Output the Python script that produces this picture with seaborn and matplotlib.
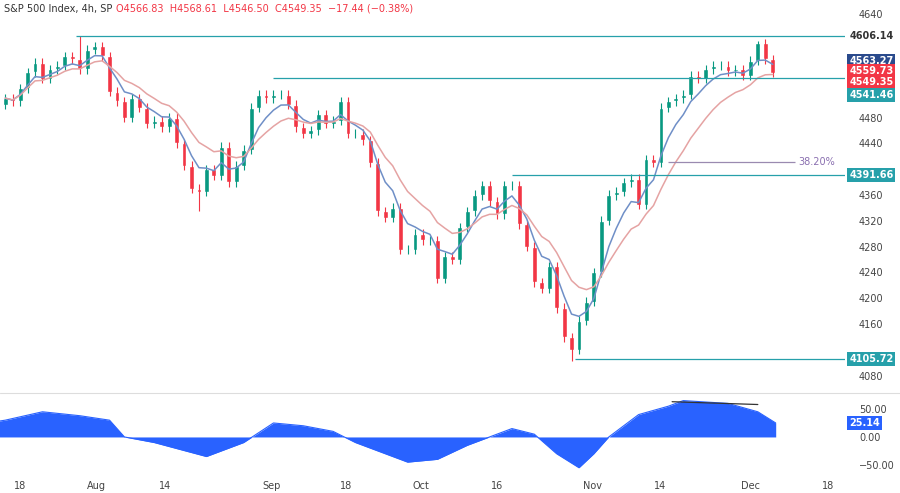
import numpy as np
import pandas as pd
import seaborn as sns
import matplotlib.pyplot as plt

# daily closes, Jul 13 .. Dec 5 2023 (business days)
closes = [4510, 4505,
          4525, 4550, 4565, 4540, 4555,
          4560, 4575, 4570, 4555, 4585,
          4590,
          4575, 4520, 4505, 4480,
          4510, 4495, 4470, 4475, 4465,
          4480, 4440, 4405, 4370, 4365,
          4400, 4390, 4435, 4380, 4405,
          4430, 4495, 4515, 4510,
          4515,
          4515, 4500, 4465, 4455, 4460,
          4485, 4470, 4475, 4505, 4455,
          4455, 4445, 4410, 4335, 4325,
          4340, 4275, 4275, 4300, 4290,
          4290, 4230, 4265, 4260, 4310,
          4335, 4360, 4375, 4350, 4330,
          4375, 4375, 4315, 4280, 4225,
          4215, 4250, 4185, 4140, 4120,
          4165, 4195,
          4240, 4320, 4360,
          4365, 4380, 4385, 4345, 4415,
          4410, 4495, 4505, 4510, 4515,
          4545, 4540, 4555, 4560, 4560,
          4552, 4555, 4545, 4568,
          4595,
          4570, 4549.35]
first_open = 4500
extreme_highs = {10: 4607, 101: 4598}
extreme_lows = {26: 4335, 76: 4103}

osc_idx = [-1, 0, 5, 10, 14, 16, 20, 27, 32, 36, 40, 44, 47, 54, 58, 62, 65, 68, 71, 74,
           77, 79, 81, 85, 89, 91, 97, 101, 103.4]
osc_val = [28, 30, 45, 38, 30, 0, -10, -35, -10, 25, 20, 10, -10, -45, -40, -15, 0, 15, 5,
           -30, -55, -30, 0, 40, 55, 65, 60, 45, 25]

levels = [(4606.14, 9.5), (4541.46, 36), (4391.66, 68), (4105.72, 76.5)]
price_ticks = [4080, 4160, 4200, 4240, 4280, 4320, 4360, 4440, 4480, 4640]
tick_pos = [2, 12.3, 21.4, 35.7, 45.7, 55.8, 66, 78.8, 87.9, 100, 110.4]
tick_txt = ["18", "Aug", "14", "Sep", "18", "Oct", "16", "Nov", "14", "Dec", "18"]

dates = pd.bdate_range("2023-07-13", periods=len(closes))
df = pd.DataFrame({"x": np.arange(len(closes)), "close": closes}, index=dates)
df["open"] = [first_open] + closes[:-1]
df["high"] = df[["open", "close"]].max(axis=1) + 7
df["low"] = df[["open", "close"]].min(axis=1) - 7
for k, v in extreme_highs.items():
    df.iloc[k, df.columns.get_loc("high")] = v
for k, v in extreme_lows.items():
    df.iloc[k, df.columns.get_loc("low")] = v
df["fast"] = df["close"].ewm(span=5).mean()
df["slow"] = df["close"].ewm(span=11).mean()

sns.set_style("white")
plt.rcParams['font.family'] = ['DejaVu Sans']
GREEN, RED, TEAL = "#089981", "#F23645", "#26A0AA"

fig = plt.figure(figsize=(9, 4.93), dpi=100)
ax = fig.add_axes([0, 1 - 390 / 493, 845 / 900, 390 / 493])
ax2 = fig.add_axes([0, 18 / 493, 845 / 900, 80 / 493], sharex=ax)

for _, r in df.iterrows():
    c = GREEN if r.close >= r.open else RED
    ax.vlines(r.x, r.low, r.high, color=c, lw=0.8)
    ax.bar(r.x, r.close - r.open if abs(r.close - r.open) > 1 else 1.5, bottom=r.open,
           width=0.65, color=c)
sns.lineplot(data=df, x="x", y="fast", ax=ax, color="#6f8fc7", lw=1.1)
sns.lineplot(data=df, x="x", y="slow", ax=ax, color="#e5a3a3", lw=1.1)

for lvl, start in levels:
    ax.hlines(lvl, start, 113, color=TEAL, lw=0.9)
ax.hlines(4411, 89, 106, color="#9a8ab0", lw=0.9)
ax.text(106.5, 4411, "38.20%", color="#8a6fb0", fontsize=7, va="center")

ax.set_xlim(-0.7, 112.7)
ax.set_ylim(4058, 4662)
ax.yaxis.tick_right()
ax.set_yticks(price_ticks)
ax.tick_params(axis="y", labelsize=7, colors="#444", length=0, pad=10)
ax.tick_params(axis="x", bottom=False, labelbottom=False)
ax.set_xlabel(""); ax.set_ylabel("")
for s in ax.spines.values():
    s.set_visible(False)

def tag(a, y, txt, bg, fg="white"):
    a.text(1.005, y, txt, transform=a.get_yaxis_transform(), fontsize=7, color=fg,
           va="center", ha="left", fontweight="bold",
           bbox=dict(boxstyle="square,pad=0.2", fc=bg, ec="none"))

tag(ax, 4606.14, "4606.14", "white", "#333")
tag(ax, 4563.27 + 4, "4563.27", "#2a4a8c")
tag(ax, 4559.73 - 8, "4559.73", RED)
tag(ax, 4549.35 - 14, "4549.35", RED)
tag(ax, 4541.46 - 26, "4541.46", TEAL)
tag(ax, 4391.66, "4391.66", TEAL)
tag(ax, 4105.72, "4105.72", TEAL)

ax.text(0.005, 0.99, "S&P 500 Index, 4h, SP", transform=ax.transAxes, fontsize=7,
        va="top", color="#333")
ax.text(0.137, 0.99, "O4566.83  H4568.61  L4546.50  C4549.35  \u221217.44 (\u22120.38%)",
        transform=ax.transAxes, fontsize=7, va="top", color=RED)

osc = pd.DataFrame({"x": osc_idx, "v": osc_val})
ax2.fill_between(osc.x, osc.v, 0, color="#2962FF", lw=0)
sns.lineplot(data=osc, x="x", y="v", ax=ax2, color="#2962FF", lw=0.8)
ax2.plot([89.5, 101], [63, 58], color="#333", lw=0.9)
ax2.set_ylim(-68, 75)
ax2.yaxis.tick_right()
ax2.set_yticks([50, 0, -50])
ax2.set_yticklabels(["50.00", "0.00", "\u221250.00"])
ax2.tick_params(axis="y", labelsize=7, colors="#444", length=0, pad=10)
tag(ax2, 25.14, "25.14", "#2962FF")
ax2.set_xticks(tick_pos)
ax2.set_xticklabels(tick_txt)
ax2.tick_params(axis="x", labelsize=7, colors="#444", length=0, pad=4)
ax2.set_xlabel(""); ax2.set_ylabel("")
for s in ax2.spines.values():
    s.set_visible(False)
fig.add_artist(plt.Line2D([0, 1], [1 - 393 / 493] * 2, color="#ddd", lw=0.8))

fig.savefig("out.png", dpi=100)
